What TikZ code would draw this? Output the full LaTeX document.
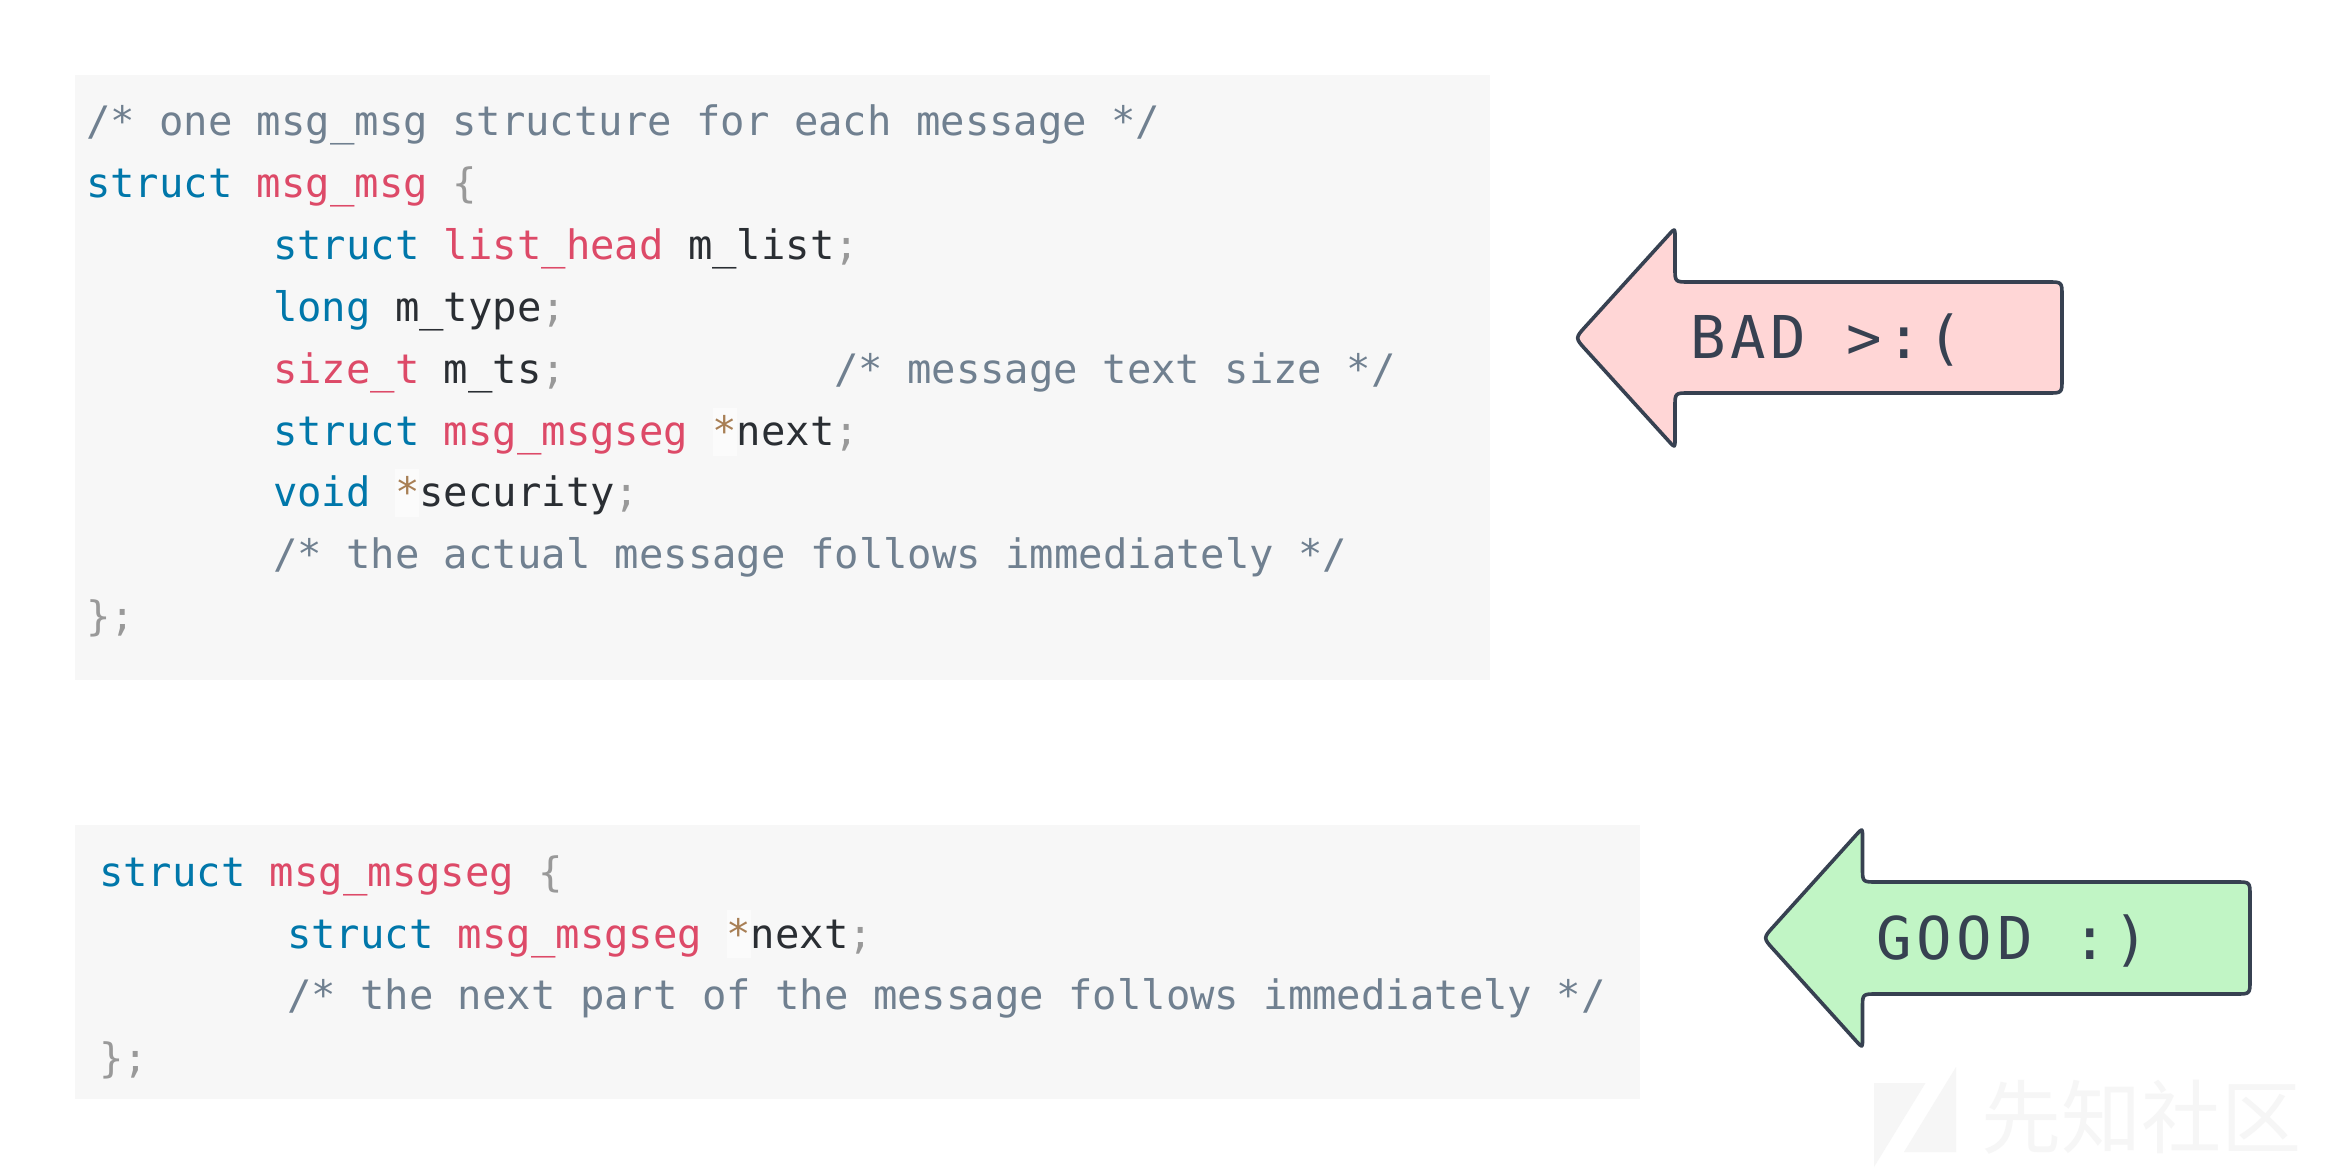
\documentclass[tikz,border=0pt]{standalone}
\usepackage{fontspec}
\setmonofont{DejaVu Sans Mono}
\newfontfamily\labelfont[LetterSpace=8]{DejaVu Sans Mono}
\newfontfamily\cjkfont{Noto Sans CJK SC}
\definecolor{panelbg}{HTML}{F7F7F7}
\definecolor{cmt}{HTML}{708090}
\definecolor{kw}{HTML}{0077AA}
\definecolor{typ}{HTML}{DD4A68}
\definecolor{pun}{HTML}{999999}
\definecolor{opc}{HTML}{A87F55}
\definecolor{opbg}{HTML}{FBFBFB}
\definecolor{ink}{HTML}{2A2E33}
\definecolor{edge}{HTML}{374151}
\definecolor{badfill}{HTML}{FFD6D6}
\definecolor{goodfill}{HTML}{C1F5C5}
\definecolor{wmcol}{HTML}{F6F6F6}
\newcommand{\Cmt}[1]{\textcolor{cmt}{#1}}
\newcommand{\Kw}[1]{\textcolor{kw}{#1}}
\newcommand{\Typ}[1]{\textcolor{typ}{#1}}
\newcommand{\Pun}[1]{\textcolor{pun}{#1}}
\newcommand{\Star}{\rlap{\textcolor{opbg}{\rule[-5pt]{12.2pt}{24pt}}}\textcolor{opc}{*}}
\tikzset{
  panel/.style={fill=panelbg,draw=none},
  codeline/.style={anchor=base west,inner sep=0pt,outer sep=0pt,text=ink,font=\ttfamily\fontsize{20.28}{24}\selectfont},
  arrowshape/.style={draw=edge,line width=1.8pt,line join=round},
  arrowlabel/.style={anchor=base west,inner sep=0pt,text=edge,font=\labelfont\fontsize{29.5}{34}\selectfont},
  wmtext/.style={anchor=base west,inner sep=0pt,text=wmcol,font=\cjkfont\fontsize{40}{44}\selectfont},
}
\begin{document}
\begin{tikzpicture}[x=0.5pt,y=-0.5pt]
\useasboundingbox (0,0) rectangle (2325,1176);
\fill[white] (0,0) rectangle (2325,1176);
% panels
\path[panel] (75,75) rectangle (1490,680);
\path[panel] (75,825) rectangle (1640,1099);
% first struct
\node[codeline] (a1) at (86,136) {\Cmt{/* one msg\_msg structure for each message */}};
\node[codeline] (a2) at (86,198) {\Kw{struct} \Typ{msg\_msg} \Pun{\{}};
\node[codeline] (a3) at (273,260) {\Kw{struct} \Typ{list\_head} m\_list\Pun{;}};
\node[codeline] (a4) at (273,322) {\Kw{long} m\_type\Pun{;}};
\node[codeline] (a5) at (273,384) {\Typ{size\_t} m\_ts\Pun{;}};
\node[codeline] (a5c) at (834,384) {\Cmt{/* message text size */}};
\node[codeline] (a6) at (273,446) {\Kw{struct} \Typ{msg\_msgseg} \Star next\Pun{;}};
\node[codeline] (a7) at (273,507) {\Kw{void} \Star security\Pun{;}};
\node[codeline] (a8) at (273,568) {\Cmt{/* the actual message follows immediately */}};
\node[codeline] (a9) at (86,631) {\Pun{\};}};
% second struct
\node[codeline] (b1) at (99,886) {\Kw{struct} \Typ{msg\_msgseg} \Pun{\{}};
\node[codeline] (b2) at (287,948) {\Kw{struct} \Typ{msg\_msgseg} \Star next\Pun{;}};
\node[codeline] (b3) at (287,1009) {\Cmt{/* the next part of the message follows immediately */}};
\node[codeline] (b4) at (99,1072) {\Pun{\};}};
% BAD arrow
\draw[arrowshape,fill=badfill]
  (1585.8,326.2) -- (1668.9,234.7) .. controls (1675,228) .. (1675,237)
  -- (1675,268) .. controls (1675,282) .. (1689,282)
  -- (2048,282) .. controls (2062,282) .. (2062,296)
  -- (2062,379) .. controls (2062,393) .. (2048,393)
  -- (1689,393) .. controls (1675,393) .. (1675,407)
  -- (1675,439) .. controls (1675,448) .. (1668.9,441.3)
  -- (1585.8,349.8) .. controls (1575,338) .. (1585.8,326.2) -- cycle;
\node[arrowlabel] (badtext) at (1690,359) {BAD >:(};
% GOOD arrow
\draw[arrowshape,fill=goodfill]
  (1773.8,926.2) -- (1856.4,834.7) .. controls (1862.5,828) .. (1862.5,837)
  -- (1862.5,868) .. controls (1862.5,882) .. (1876.5,882)
  -- (2236,882) .. controls (2250,882) .. (2250,896)
  -- (2250,980) .. controls (2250,994) .. (2236,994)
  -- (1876.5,994) .. controls (1862.5,994) .. (1862.5,1008)
  -- (1862.5,1039) .. controls (1862.5,1048) .. (1856.4,1041.3)
  -- (1773.8,949.8) .. controls (1763,938) .. (1773.8,926.2) -- cycle;
\node[arrowlabel] (goodtext) at (1876,959) {GOOD :)};
% watermark
\fill[wmcol] (1874,1083) -- (1925.5,1083) -- (1874,1167) -- cycle;
\fill[wmcol] (1956,1067) -- (1956,1152) -- (1904,1152) -- cycle;
\node[wmtext] (wm) at (1981,1147) {先知社区};
\end{tikzpicture}
\end{document}
